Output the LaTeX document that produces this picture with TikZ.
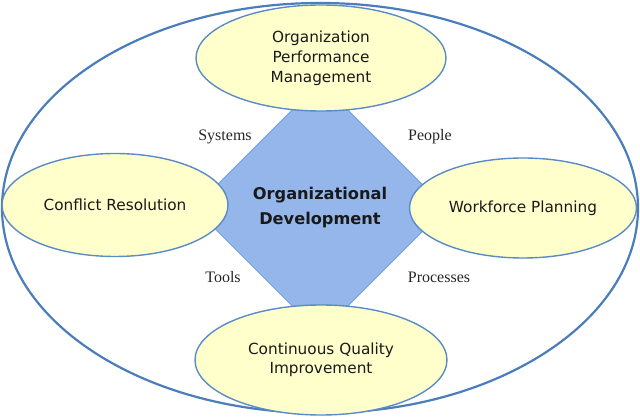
\documentclass[tikz,border=0pt]{standalone}
\usepackage{fontspec}
\setmainfont{Liberation Serif}
\newfontfamily\comicfont{DejaVu Sans}
\usetikzlibrary{shapes.geometric}
\definecolor{outerblue}{HTML}{4A7DBA}
\definecolor{ellborder}{HTML}{5B8BC7}
\definecolor{ellfill}{HTML}{FFFFCC}
\definecolor{diafill}{HTML}{94B6EA}
\definecolor{diaborder}{HTML}{7FA3DB}
\begin{document}
\begin{tikzpicture}[x=1pt,y=-1pt,
  outerell/.style={draw=outerblue,line width=2.2pt,ellipse,minimum width=636pt,minimum height=410pt,inner sep=0pt},
  topic/.style={draw=ellborder,line width=1.4pt,fill=ellfill,ellipse,inner sep=0pt,align=center,
    font=\comicfont\fontsize{15.3}{20}\selectfont,text=black!90},
  core/.style={draw=diaborder,line width=1pt,fill=diafill,diamond,aspect=1,inner sep=0pt,
    minimum width=252pt,minimum height=252pt,align=center,
    font=\comicfont\bfseries\fontsize{16.2}{25}\selectfont,text=black!90},
  tag/.style={font=\fontsize{16}{18}\selectfont,text=black!85,inner sep=0pt}
]
\useasboundingbox (0,0) rectangle (640,419);
\node[outerell] (outer) at (320,208) {};
\node[core] (od) at (320,208) {Organizational\\Development};
\node[topic,minimum width=250pt,minimum height=106pt] (opm) at (321,58) {Organization\\Performance\\Management};
\node[topic,minimum width=226pt,minimum height=103pt] (cr) at (115,205) {Conflict Resolution};
\node[topic,minimum width=227pt,minimum height=100pt] (wp) at (523,208) {Workforce Planning};
\node[topic,minimum width=252pt,minimum height=110pt,font=\comicfont\fontsize{15.3}{19}\selectfont] (cqi) at (321,360) {Continuous Quality\\Improvement};
\node[tag] (sys) at (225,137) {Systems};
\node[tag] (ppl) at (430,137) {People};
\node[tag] (tls) at (223,277) {Tools};
\node[tag] (prc) at (439,277) {Processes};
\end{tikzpicture}
\end{document}
